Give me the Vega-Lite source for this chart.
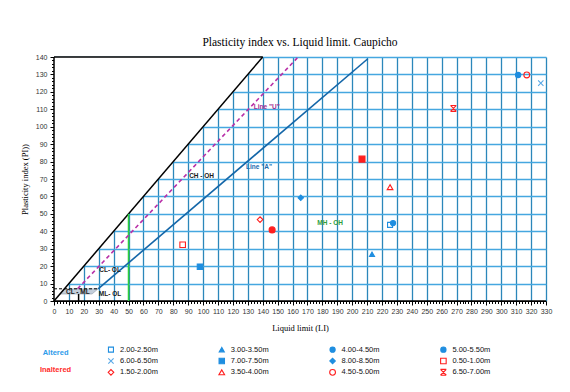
{
  "$schema": "https://vega.github.io/schema/vega-lite/v6.json",
  "padding": {"left": 20, "top": 37, "right": 5, "bottom": 5},
  "background": "white",
  "config": {
    "view": {"stroke": null},
    "axis": {"labelFont": "Liberation Sans Narrow, Liberation Sans", "labelFontSize": 7, "labelColor": "#333333"}
  },
  "spacing": 12,
  "vconcat": [
    {
      "width": 492,
      "height": 244,
      "title": {
        "text": "Plasticity index vs. Liquid limit. Caupicho",
        "font": "Liberation Serif",
        "fontSize": 11.5,
        "fontWeight": "normal",
        "color": "#000000",
        "anchor": "middle",
        "frame": "group",
        "offset": 4.5
      },
      "layer": [
        {
          "description": "White wedge above PI = LL hides the grid there",
          "data": {"values": [{"ll": 0, "lo": 0, "hi": 140}, {"ll": 140, "lo": 140, "hi": 140}]},
          "mark": {"type": "area", "color": "white", "opacity": 1},
          "encoding": {
            "x": {
              "field": "ll", "type": "quantitative",
              "scale": {"domain": [0, 330], "nice": false, "zero": false},
              "axis": {
                "title": "Liquid limit (LI)",
                "titleFont": "Liberation Serif", "titleFontSize": 8.5, "titleFontWeight": "normal", "titleColor": "#000000",
                "titlePadding": 9,
                "tickCount": 1000,
                "format": "d",
                "values": [0,2,4,6,8,10,12,14,16,18,20,22,24,26,28,30,32,34,36,38,40,42,44,46,48,50,52,54,56,58,60,62,64,66,68,70,72,74,76,78,80,82,84,86,88,90,92,94,96,98,100,102,104,106,108,110,112,114,116,118,120,122,124,126,128,130,132,134,136,138,140,142,144,146,148,150,152,154,156,158,160,162,164,166,168,170,172,174,176,178,180,182,184,186,188,190,192,194,196,198,200,202,204,206,208,210,212,214,216,218,220,222,224,226,228,230,232,234,236,238,240,242,244,246,248,250,252,254,256,258,260,262,264,266,268,270,272,274,276,278,280,282,284,286,288,290,292,294,296,298,300,302,304,306,308,310,312,314,316,318,320,322,324,326,328,330],
                "labelExpr": "datum.value % 10 === 0 ? datum.label : ''",
                "labelOverlap": false, "labelFlush": false, "labelPadding": 2,
                "domainColor": "#000000", "tickColor": "#000000",
                "tickSize": {"condition": {"test": "datum.value % 10 === 0", "value": 4}, "value": 2.5},
                "grid": true, "gridColor": "#2B87BA", "gridWidth": 1.3,
                "gridOpacity": {"condition": {"test": "datum.value % 10 === 0 && datum.value > 0", "value": 1}, "value": 0}
              }
            },
            "y": {
              "field": "lo", "type": "quantitative",
              "scale": {"domain": [0, 140], "nice": false, "zero": false},
              "axis": {
                "title": "Plasticity index (PI))",
                "titleFont": "Liberation Serif", "titleFontSize": 8.5, "titleFontWeight": "normal", "titleColor": "#000000",
                "titlePadding": 6,
                "tickCount": 1000,
                "format": "d",
                "values": [0,2,4,6,8,10,12,14,16,18,20,22,24,26,28,30,32,34,36,38,40,42,44,46,48,50,52,54,56,58,60,62,64,66,68,70,72,74,76,78,80,82,84,86,88,90,92,94,96,98,100,102,104,106,108,110,112,114,116,118,120,122,124,126,128,130,132,134,136,138,140],
                "labelExpr": "datum.value % 10 === 0 ? datum.label : ''",
                "labelOverlap": false, "labelFlush": false, "labelPadding": 3,
                "domainColor": "#000000", "tickColor": "#000000",
                "tickSize": {"condition": {"test": "datum.value % 10 === 0", "value": 4}, "value": 2.5},
                "grid": true, "gridColor": "#45A7E0", "gridWidth": 1.6,
                "gridOpacity": {"condition": {"test": "datum.value % 10 === 0 && datum.value > 0", "value": 1}, "value": 0}
              }
            },
            "y2": {"field": "hi"}
          }
        },
        {
          "description": "CL-ML band between PI 4 and 7",
          "data": {"values": [{"pi": 4, "left": 4, "right": 25.5}, {"pi": 7, "left": 7, "right": 29.6}]},
          "mark": {"type": "area", "orient": "horizontal", "color": "#C3CEDA", "stroke": "#7F8C99", "strokeWidth": 0.5},
          "encoding": {
            "y": {"field": "pi", "type": "quantitative"},
            "x": {"field": "left", "type": "quantitative"},
            "x2": {"field": "right"}
          }
        },
        {
          "description": "Frame edges and PI = LL limit",
          "data": {"values": [
            {"x1": 0, "y1": 0, "x2": 140, "y2": 140},
            {"x1": 0, "y1": 140, "x2": 140, "y2": 140},
            {"x1": 0, "y1": 0, "x2": 0, "y2": 140},
            {"x1": 0, "y1": 0, "x2": 330, "y2": 0},
            {"x1": 16.5, "y1": 0, "x2": 16.5, "y2": 4}
          ]},
          "mark": {"type": "rule", "color": "#000000", "strokeWidth": 1.5},
          "encoding": {
            "x": {"field": "x1", "type": "quantitative"},
            "y": {"field": "y1", "type": "quantitative"},
            "x2": {"field": "x2"},
            "y2": {"field": "y2"}
          }
        },
        {
          "description": "PI = 7 dashed limit",
          "data": {"values": [{"x1": 0, "y1": 7, "x2": 29.6, "y2": 7}]},
          "mark": {"type": "rule", "color": "#000000", "strokeWidth": 1, "strokeDash": [3, 2]},
          "encoding": {
            "x": {"field": "x1", "type": "quantitative"},
            "y": {"field": "y1", "type": "quantitative"},
            "x2": {"field": "x2"},
            "y2": {"field": "y2"}
          }
        },
        {
          "description": "LL = 50 divide",
          "data": {"values": [{"x1": 50, "y1": 0, "x2": 50, "y2": 50}]},
          "mark": {"type": "rule", "color": "#2FD03F", "strokeWidth": 1.6},
          "encoding": {
            "x": {"field": "x1", "type": "quantitative"},
            "y": {"field": "y1", "type": "quantitative"},
            "x2": {"field": "x2"},
            "y2": {"field": "y2"}
          }
        },
        {
          "description": "A-line PI = 0.73 (LL - 20)",
          "data": {"values": [{"x1": 29.6, "y1": 7, "x2": 210.5, "y2": 139}]},
          "mark": {"type": "rule", "color": "#1466A8", "strokeWidth": 1.6},
          "encoding": {
            "x": {"field": "x1", "type": "quantitative"},
            "y": {"field": "y1", "type": "quantitative"},
            "x2": {"field": "x2"},
            "y2": {"field": "y2"}
          }
        },
        {
          "description": "U-line PI = 0.9 (LL - 8)",
          "data": {"values": [{"x1": 15.8, "y1": 7, "x2": 163.2, "y2": 139.5}]},
          "mark": {"type": "rule", "color": "#B82FA8", "strokeWidth": 1.6, "strokeDash": [4, 3]},
          "encoding": {
            "x": {"field": "x1", "type": "quantitative"},
            "y": {"field": "y1", "type": "quantitative"},
            "x2": {"field": "x2"},
            "y2": {"field": "y2"}
          }
        },
        {
          "description": "Zone names",
          "data": {"values": [
            {"text": "CH - OH", "ll": 99, "pi": 72},
            {"text": "CL- OL", "ll": 37.6, "pi": 18},
            {"text": "ML- OL", "ll": 37.6, "pi": 4},
            {"text": "CL - ML", "ll": 16, "pi": 5.3}
          ]},
          "mark": {"type": "text", "font": "Liberation Sans Narrow, Liberation Sans", "fontSize": 6.5, "fontWeight": "bold", "color": "#1A1A1A"},
          "encoding": {
            "x": {"field": "ll", "type": "quantitative"},
            "y": {"field": "pi", "type": "quantitative"},
            "text": {"field": "text"}
          }
        },
        {
          "data": {"values": [{"text": "Line \"U\"", "ll": 142.7, "pi": 111.3}]},
          "mark": {"type": "text", "font": "Liberation Sans Narrow, Liberation Sans", "fontSize": 6.5, "fontWeight": "bold", "color": "#A32E92"},
          "encoding": {
            "x": {"field": "ll", "type": "quantitative"},
            "y": {"field": "pi", "type": "quantitative"},
            "text": {"field": "text"}
          }
        },
        {
          "data": {"values": [{"text": "Line \"A\"", "ll": 137.5, "pi": 76.6}]},
          "mark": {"type": "text", "font": "Liberation Sans Narrow, Liberation Sans", "fontSize": 6.5, "fontWeight": "bold", "color": "#1A6AAE"},
          "encoding": {
            "x": {"field": "ll", "type": "quantitative"},
            "y": {"field": "pi", "type": "quantitative"},
            "text": {"field": "text"}
          }
        },
        {
          "data": {"values": [{"text": "MH - OH", "ll": 185.2, "pi": 45}]},
          "mark": {"type": "text", "font": "Liberation Sans Narrow, Liberation Sans", "fontSize": 6.5, "fontWeight": "bold", "color": "#2E9E3E"},
          "encoding": {
            "x": {"field": "ll", "type": "quantitative"},
            "y": {"field": "pi", "type": "quantitative"},
            "text": {"field": "text"}
          }
        },
        {
          "description": "Samples",
          "data": {"values": [
            {"series": "I 0.50-1.00m", "ll": 86.3, "pi": 32.3},
            {"series": "A 7.00-7.50m", "ll": 97.9, "pi": 19.7},
            {"series": "I filled square", "ll": 206.6, "pi": 81.4},
            {"series": "I 1.50-2.00m", "ll": 138.2, "pi": 46.7},
            {"series": "I filled circle", "ll": 146.3, "pi": 40.8},
            {"series": "A 8.00-8.50m", "ll": 165.5, "pi": 59.2},
            {"series": "A 3.00-3.50m", "ll": 213.3, "pi": 26.8},
            {"series": "I 3.50-4.00m", "ll": 225.4, "pi": 65.3},
            {"series": "A 2.00-2.50m", "ll": 225.4, "pi": 43.7},
            {"series": "A 4.00-4.50m", "ll": 227.4, "pi": 44.7},
            {"series": "I 6.50-7.00m", "ll": 267.9, "pi": 110.5},
            {"series": "A 5.00-5.50m", "ll": 311.3, "pi": 129.7},
            {"series": "I 4.50-5.00m", "ll": 317.1, "pi": 129.7},
            {"series": "A 6.00-6.50m", "ll": 326.5, "pi": 125}
          ]},
          "mark": {"type": "point", "strokeWidth": 1.1, "opacity": 1},
          "encoding": {
            "x": {"field": "ll", "type": "quantitative"},
            "y": {"field": "pi", "type": "quantitative"},
            "shape": {"field": "series", "type": "nominal", "legend": null,
              "scale": {"domain": ["A 2.00-2.50m","A 3.00-3.50m","A 4.00-4.50m","A 5.00-5.50m","A 6.00-6.50m","A 7.00-7.50m","A 8.00-8.50m","I 0.50-1.00m","I 1.50-2.00m","I 3.50-4.00m","I 4.50-5.00m","I 6.50-7.00m","I filled square","I filled circle"],
                "range": ["square","triangle-up","circle","circle","M-1,-1L1,1M-1,1L1,-1","square","diamond","square","diamond","triangle-up","circle","M-1,-1L1,-1M-1,1L1,1M-1,-1L1,1M1,-1L-1,1","square","circle"]}},
            "fill": {"field": "series", "type": "nominal", "legend": null,
              "scale": {"domain": ["A 2.00-2.50m","A 3.00-3.50m","A 4.00-4.50m","A 5.00-5.50m","A 6.00-6.50m","A 7.00-7.50m","A 8.00-8.50m","I 0.50-1.00m","I 1.50-2.00m","I 3.50-4.00m","I 4.50-5.00m","I 6.50-7.00m","I filled square","I filled circle"],
                "range": ["transparent","#1F8EE0","#1F8EE0","#1F8EE0","transparent","#1F8EE0","#1F8EE0","transparent","transparent","transparent","transparent","transparent","#FF1F1F","#FF1F1F"]}},
            "stroke": {"field": "series", "type": "nominal", "legend": null,
              "scale": {"domain": ["A 2.00-2.50m","A 3.00-3.50m","A 4.00-4.50m","A 5.00-5.50m","A 6.00-6.50m","A 7.00-7.50m","A 8.00-8.50m","I 0.50-1.00m","I 1.50-2.00m","I 3.50-4.00m","I 4.50-5.00m","I 6.50-7.00m","I filled square","I filled circle"],
                "range": ["#1F8EE0","#1F8EE0","#1F8EE0","#1F8EE0","#58A8E6","#1F8EE0","#1F8EE0","#FF1F1F","#FF1F1F","#FF1F1F","#FF1F1F","#FF1F1F","#FF1F1F","#FF1F1F"]}},
            "size": {"field": "series", "type": "nominal", "legend": null,
              "scale": {"domain": ["A 2.00-2.50m","A 3.00-3.50m","A 4.00-4.50m","A 5.00-5.50m","A 6.00-6.50m","A 7.00-7.50m","A 8.00-8.50m","I 0.50-1.00m","I 1.50-2.00m","I 3.50-4.00m","I 4.50-5.00m","I 6.50-7.00m","I filled square","I filled circle"],
                "range": [25,36,10,30,49,36,30,36,22,28,36,36,28,49]}}
          }
        }
      ]
    },
    {
      "width": 492,
      "height": 34,
      "layer": [
        {
          "description": "Key symbols",
          "data": {"name": "key", "values": [
            {"series": "A 2.00-2.50m", "label": "2.00-2.50m", "col": 1, "row": 1},
            {"series": "A 3.00-3.50m", "label": "3.00-3.50m", "col": 2, "row": 1},
            {"series": "A 4.00-4.50m", "label": "4.00-4.50m", "col": 3, "row": 1},
            {"series": "A 5.00-5.50m", "label": "5.00-5.50m", "col": 4, "row": 1},
            {"series": "A 6.00-6.50m", "label": "6.00-6.50m", "col": 1, "row": 2},
            {"series": "A 7.00-7.50m", "label": "7.00-7.50m", "col": 2, "row": 2},
            {"series": "A 8.00-8.50m", "label": "8.00-8.50m", "col": 3, "row": 2},
            {"series": "I 0.50-1.00m", "label": "0.50-1.00m", "col": 4, "row": 2},
            {"series": "I 1.50-2.00m", "label": "1.50-2.00m", "col": 1, "row": 3},
            {"series": "I 3.50-4.00m", "label": "3.50-4.00m", "col": 2, "row": 3},
            {"series": "I 4.50-5.00m", "label": "4.50-5.00m", "col": 3, "row": 3},
            {"series": "I 6.50-7.00m", "label": "6.50-7.00m", "col": 4, "row": 3}
          ]},
          "mark": {"type": "point", "strokeWidth": 1.1, "opacity": 1},
          "encoding": {
            "x": {"field": "col", "type": "quantitative", "axis": null, "scale": {"domain": [0.486, 4.926], "nice": false, "zero": false}},
            "y": {"field": "row", "type": "quantitative", "axis": null, "scale": {"domain": [0.5, 3.5], "nice": false, "zero": false, "reverse": true}},
            "shape": {"field": "series", "type": "nominal", "legend": null,
              "scale": {"domain": ["A 2.00-2.50m","A 3.00-3.50m","A 4.00-4.50m","A 5.00-5.50m","A 6.00-6.50m","A 7.00-7.50m","A 8.00-8.50m","I 0.50-1.00m","I 1.50-2.00m","I 3.50-4.00m","I 4.50-5.00m","I 6.50-7.00m","I filled square","I filled circle"],
                "range": ["square","triangle-up","circle","circle","M-1,-1L1,1M-1,1L1,-1","square","diamond","square","diamond","triangle-up","circle","M-1,-1L1,-1M-1,1L1,1M-1,-1L1,1M1,-1L-1,1","square","circle"]}},
            "fill": {"field": "series", "type": "nominal", "legend": null,
              "scale": {"domain": ["A 2.00-2.50m","A 3.00-3.50m","A 4.00-4.50m","A 5.00-5.50m","A 6.00-6.50m","A 7.00-7.50m","A 8.00-8.50m","I 0.50-1.00m","I 1.50-2.00m","I 3.50-4.00m","I 4.50-5.00m","I 6.50-7.00m","I filled square","I filled circle"],
                "range": ["transparent","#1F8EE0","#1F8EE0","#1F8EE0","transparent","#1F8EE0","#1F8EE0","transparent","transparent","transparent","transparent","transparent","#FF1F1F","#FF1F1F"]}},
            "stroke": {"field": "series", "type": "nominal", "legend": null,
              "scale": {"domain": ["A 2.00-2.50m","A 3.00-3.50m","A 4.00-4.50m","A 5.00-5.50m","A 6.00-6.50m","A 7.00-7.50m","A 8.00-8.50m","I 0.50-1.00m","I 1.50-2.00m","I 3.50-4.00m","I 4.50-5.00m","I 6.50-7.00m","I filled square","I filled circle"],
                "range": ["#1F8EE0","#1F8EE0","#1F8EE0","#1F8EE0","#58A8E6","#1F8EE0","#1F8EE0","#FF1F1F","#FF1F1F","#FF1F1F","#FF1F1F","#FF1F1F","#FF1F1F","#FF1F1F"]}},
            "size": {"field": "series", "type": "nominal", "legend": null,
              "scale": {"domain": ["A 2.00-2.50m","A 3.00-3.50m","A 4.00-4.50m","A 5.00-5.50m","A 6.00-6.50m","A 7.00-7.50m","A 8.00-8.50m","I 0.50-1.00m","I 1.50-2.00m","I 3.50-4.00m","I 4.50-5.00m","I 6.50-7.00m","I filled square","I filled circle"],
                "range": [20,30,10,42,30,36,30,36,22,30,36,25,28,49]}}
          }
        },
        {
          "description": "Key labels",
          "data": {"name": "key"},
          "mark": {"type": "text", "align": "left", "baseline": "middle", "dx": 9, "font": "Liberation Sans", "fontSize": 7.5, "color": "#111111"},
          "encoding": {
            "x": {"field": "col", "type": "quantitative", "axis": null},
            "y": {"field": "row", "type": "quantitative", "axis": null},
            "text": {"field": "label"}
          }
        },
        {
          "description": "Group headings",
          "data": {"values": [
            {"group": "Altered", "col": 0.5, "row": 1.25},
            {"group": "Inaltered", "col": 0.5, "row": 2.75}
          ]},
          "mark": {"type": "text", "align": "center", "baseline": "middle", "font": "Liberation Sans", "fontSize": 7.5, "fontWeight": "bold"},
          "encoding": {
            "x": {"field": "col", "type": "quantitative", "axis": null},
            "y": {"field": "row", "type": "quantitative", "axis": null},
            "text": {"field": "group"},
            "color": {"field": "group", "type": "nominal", "legend": null,
              "scale": {"domain": ["Altered", "Inaltered"], "range": ["#2E9BEA", "#FF2A2A"]}}
          }
        }
      ]
    }
  ]
}
